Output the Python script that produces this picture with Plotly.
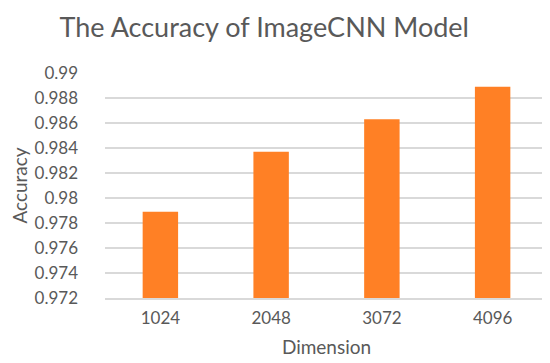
import plotly.graph_objects as go

dimensions = ["1024", "2048", "3072", "4096"]
accuracy = [0.9789, 0.9837, 0.9863, 0.9889]
y_ticks = [0.972, 0.974, 0.976, 0.978, 0.98, 0.982, 0.984, 0.986, 0.988, 0.99]

fig = go.Figure(go.Bar(x=dimensions, y=accuracy, marker_color="#FF8025",
                       marker_line_width=0))

fig.update_layout(
    width=550, height=363,
    title=dict(text="The Accuracy of ImageCNN Model", x=0.466, xanchor="center",
               y=0.945, yanchor="middle",
               font=dict(family="Lato", size=27, color="#595959")),
    font=dict(family="Lato", size=17, color="#595959"),
    plot_bgcolor="white", paper_bgcolor="white",
    margin=dict(l=97, r=10, t=65, b=73),
    bargap=0.68,
    showlegend=False,
    xaxis=dict(title=dict(text="Dimension", font=dict(size=19), standoff=14),
               showgrid=False, showline=True, linecolor="#d9d9d9", linewidth=1.5,
               ticks="", tickfont=dict(size=17), ticklabelstandoff=4),
    yaxis=dict(title=dict(text="Accuracy", font=dict(size=19), standoff=4),
               range=[0.972, 0.99], tickvals=y_ticks,
               ticktext=[f"{v:g}" for v in y_ticks],
               showgrid=True, gridcolor="#d9d9d9", gridwidth=1.5,
               zeroline=False, ticks="", tickfont=dict(size=17),
               ticklabelstandoff=26),
)

fig.write_html("out.html")
